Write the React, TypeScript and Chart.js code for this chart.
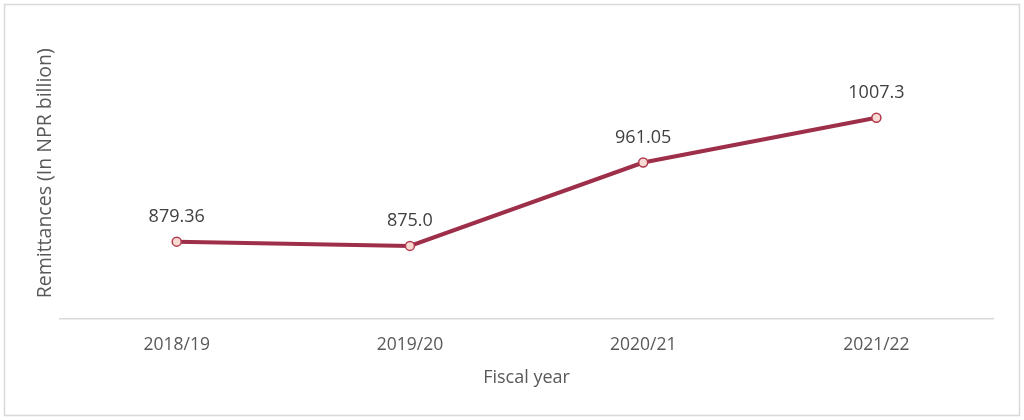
import React, { useEffect, useRef } from "react";
import { Chart, registerables } from "chart.js";

Chart.register(...registerables);

const categories = ["2018/19", "2019/20", "2020/21", "2021/22"];
const remittances = [879.36, 875.0, 961.05, 1007.3];
const valueLabels = ["879.36", "875.0", "961.05", "1007.3"];

const FONT = "'Open Sans', 'Noto Sans', sans-serif";

const frame = {
  id: "frame",
  beforeDraw(chart: any) {
    const c = chart.ctx;
    c.save();
    c.fillStyle = "#ffffff";
    c.fillRect(0, 0, chart.width, chart.height);
    c.strokeStyle = "#D9D9D9";
    c.lineWidth = 1.5;
    c.strokeRect(4.5, 4.5, chart.width - 9, chart.height - 9);
    c.restore();
  },
};

const labels = {
  id: "valueLabels",
  afterDatasetsDraw(chart: any) {
    const c = chart.ctx;
    const meta = chart.getDatasetMeta(0);
    c.save();
    c.font = `18px ${FONT}`;
    c.fillStyle = "#404040";
    c.textAlign = "center";
    c.textBaseline = "middle";
    meta.data.forEach((p: any, i: number) => {
      c.fillText(valueLabels[i], p.x, p.y - 25);
    });
    c.restore();
  },
};

export default function App() {
  const ref = useRef<HTMLCanvasElement>(null);
  useEffect(() => {
    document.body.style.margin = "0";
    const chart = new Chart(ref.current!, {
      type: "line",
      data: {
        labels: categories,
        datasets: [
          {
            data: remittances,
            borderColor: "#9E2F4A",
            borderWidth: 4,
            pointRadius: 4.5,
            pointBorderWidth: 1.5,
            pointBackgroundColor: "#F9DAD2",
            pointBorderColor: "#B23A4E",
            tension: 0,
          },
        ],
      },
      options: {
        animation: false,
        responsive: false,
        layout: { padding: { left: 29.3, right: 31, top: 28, bottom: 27.2 } },
        plugins: { legend: { display: false }, tooltip: { enabled: false } },
        scales: {
          x: {
            offset: true,
            grid: { display: false, drawTicks: false, offset: true },
            border: { display: true, color: "#D9D9D9", width: 1.5 },
            ticks: { color: "#595959", font: { family: FONT, size: 17.5 }, padding: 16 },
            title: {
              display: true,
              text: "Fiscal year",
              color: "#595959",
              font: { family: FONT, size: 18 },
              padding: { top: -4.3, bottom: 4 },
            },
          },
          y: {
            min: 800,
            max: 1100,
            grid: { display: false, drawTicks: false },
            border: { display: false },
            ticks: { display: false },
            title: {
              display: true,
              text: "Remittances (In NPR billion)",
              color: "#595959",
              font: { family: FONT, size: 19.5 },
              padding: { top: 4, bottom: 3.4 },
            },
          },
        },
      },
      plugins: [frame, labels],
    });
    return () => chart.destroy();
  }, []);
  return <canvas ref={ref} width={1024} height={420} style={{ display: "block" }} />;
}
